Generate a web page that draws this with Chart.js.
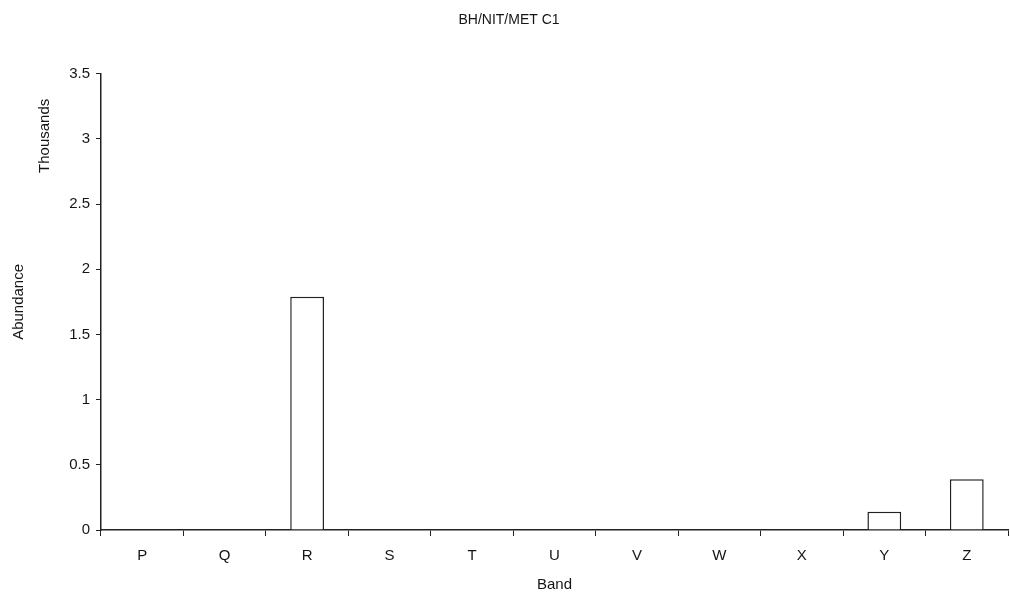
<!DOCTYPE html>
<html>
<head>
<meta charset="utf-8">
<script src="https://cdn.jsdelivr.net/npm/chart.js@4"></script>
<style>
  html, body { margin: 0; padding: 0; background: #fff; }
  #wrap { width: 1010px; height: 594px; }
</style>
</head>
<body>
<div id="wrap"><canvas id="bandChart"></canvas></div>
<script>
// Dados
const bands = ['P', 'Q', 'R', 'S', 'T', 'U', 'V', 'W', 'X', 'Y', 'Z'];
const abundance = [0, 0, 1.79, 0, 0, 0, 0, 0, 0, 0.14, 0.39]; // em milhares
const yTicks = [0, 0.5, 1, 1.5, 2, 2.5, 3, 3.5];

const FONT = 'Liberation Sans, Arial, sans-serif';
const INK = '#151515';

// Texto "Thousands" ao lado do eixo
const thousandsLabel = {
    id: 'thousandsLabel',
    afterDraw(chart) {
        const { ctx, chartArea } = chart;
        ctx.save();
        ctx.translate(chartArea.left - 56, chartArea.top + 62);
        ctx.rotate(-Math.PI / 2);
        ctx.font = '15px ' + FONT;
        ctx.fillStyle = INK;
        ctx.textAlign = 'center';
        ctx.textBaseline = 'middle';
        ctx.fillText('Thousands', 0, 0);
        ctx.restore();
    }
};

const ctx = document.getElementById('bandChart').getContext('2d');
new Chart(ctx, {
    type: 'bar',
    data: {
        labels: bands,
        datasets: [{
            data: abundance,
            backgroundColor: '#fff',
            borderColor: '#222',
            borderWidth: 1.5,
            barPercentage: 0.41,
            categoryPercentage: 1
        }]
    },
    options: {
        responsive: true,
        maintainAspectRatio: false,
        animation: false,
        layout: { padding: { left: 10, right: 2, top: 0, bottom: 0 } },
        plugins: {
            legend: { display: false },
            tooltip: { enabled: false },
            title: {
                display: true,
                text: 'BH/NIT/MET C1',
                color: INK,
                font: { family: FONT, size: 14, weight: 'normal' },
                padding: { top: 12, bottom: 45 }
            }
        },
        scales: {
            x: {
                grid: { drawOnChartArea: false, tickLength: 6, color: '#222', offset: true },
                border: { color: '#222', width: 1.5 },
                ticks: { color: INK, font: { family: FONT, size: 15 }, padding: 11 },
                title: { display: true, text: 'Band', color: INK, font: { family: FONT, size: 15 }, padding: { top: 0, bottom: 0 } }
            },
            y: {
                min: 0,
                max: 3.5,
                afterBuildTicks(scale) { scale.ticks = yTicks.map(v => ({ value: v })); },
                afterFit(scale) { scale.width = 91; },
                grid: { drawOnChartArea: false, tickLength: 5, color: '#222' },
                border: { color: '#222', width: 1.5 },
                ticks: { color: INK, font: { family: FONT, size: 15 }, padding: 6, callback: v => String(v) },
                title: { display: true, text: 'Abundance', color: INK, font: { family: FONT, size: 15 }, padding: { top: 0, bottom: 0 } }
            }
        }
    },
    plugins: [thousandsLabel]
});
</script>
</body>
</html>
